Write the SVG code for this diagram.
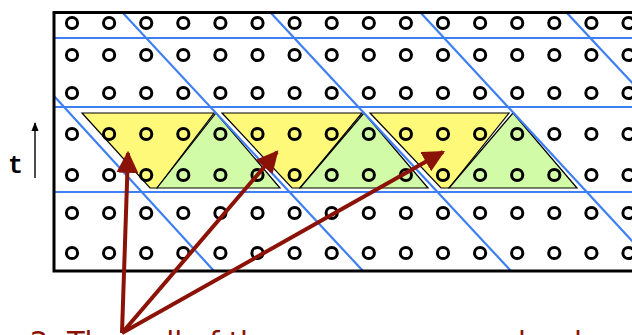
<svg xmlns="http://www.w3.org/2000/svg" width="632" height="335" viewBox="0 0 632 335">
  <style>
    .grid { fill: none; stroke: #000; stroke-width: 3; }
    .blue { stroke: #3f7ff4; stroke-width: 2.2; fill: none; }
    .yellow { fill: #fff97a; stroke: #000; stroke-width: 1.2; }
    .green { fill: #d2fba8; stroke: #000; stroke-width: 1.2; }
    .frame { fill: none; stroke: #000; stroke-width: 3; }
    .pointer { stroke: #8b1207; stroke-width: 4; fill: none; }
    .label { font-family: "Liberation Mono", "DejaVu Sans Mono", monospace; font-weight: bold; font-size: 25px; fill: #000; }
    .caption { font-family: "DejaVu Sans", "Liberation Sans", sans-serif; font-size: 29px; fill: #8b1207; }
  </style>
  <defs>
    <marker id="redhead" viewBox="0 0 10 10" refX="9" refY="5" markerWidth="5.5" markerHeight="5.5" markerUnits="strokeWidth" orient="auto">
      <path d="M0,0 L10,5 L0,10 z" fill="#8b1207"/>
    </marker>
    <marker id="blackhead" viewBox="0 0 10 10" refX="9" refY="5" markerWidth="9" markerHeight="9" markerUnits="userSpaceOnUse" orient="auto">
      <path d="M0,1 L10,5 L0,9 z" fill="#000"/>
    </marker>
  </defs>

  <!-- tiles: yellow trapezoids and green triangles -->
  <g id="tile-0">
    <polygon class="yellow" points="82,113 214,113 157,188 150,188"/>
    <polygon class="green" points="157,188 216,113 280,188"/>
  </g>
  <g id="tile-1">
    <polygon class="yellow" points="222,113 362,113 300,188 292,188"/>
    <polygon class="green" points="300,188 364,113 428,188"/>
  </g>
  <g id="tile-2">
    <polygon class="yellow" points="370,113 509,113 449,188 441,188"/>
    <polygon class="green" points="449,188 513,113 577,188"/>
  </g>

  <!-- partition lines -->
  <g id="partition">
    <line class="blue" x1="54" y1="38" x2="632" y2="38"/>
    <line class="blue" x1="54" y1="107" x2="632" y2="107"/>
    <line class="blue" x1="54" y1="192" x2="632" y2="192"/>
    <line class="blue" x1="54" y1="96" x2="214" y2="271"/>
    <line class="blue" x1="122" y1="12" x2="363" y2="271"/>
    <line class="blue" x1="270" y1="12" x2="511" y2="271"/>
    <line class="blue" x1="420" y1="12" x2="660" y2="271"/>
    <line class="blue" x1="566" y1="12" x2="808" y2="271"/>
  </g>

  <!-- grid points -->
  <g id="points" class="grid">
    <g id="row-0">
      <circle cx="72" cy="23" r="5.6"/><circle cx="109.1" cy="23" r="5.6"/><circle cx="146.2" cy="23" r="5.6"/><circle cx="183.3" cy="23" r="5.6"/><circle cx="220.4" cy="23" r="5.6"/><circle cx="257.5" cy="23" r="5.6"/><circle cx="294.6" cy="23" r="5.6"/><circle cx="331.7" cy="23" r="5.6"/><circle cx="368.8" cy="23" r="5.6"/><circle cx="405.9" cy="23" r="5.6"/><circle cx="443" cy="23" r="5.6"/><circle cx="480.1" cy="23" r="5.6"/><circle cx="517.2" cy="23" r="5.6"/><circle cx="554.3" cy="23" r="5.6"/><circle cx="591.4" cy="23" r="5.6"/><circle cx="628.5" cy="23" r="5.6"/>
    </g>
    <g id="row-1">
      <circle cx="72" cy="55" r="5.6"/><circle cx="109.1" cy="55" r="5.6"/><circle cx="146.2" cy="55" r="5.6"/><circle cx="183.3" cy="55" r="5.6"/><circle cx="220.4" cy="55" r="5.6"/><circle cx="257.5" cy="55" r="5.6"/><circle cx="294.6" cy="55" r="5.6"/><circle cx="331.7" cy="55" r="5.6"/><circle cx="368.8" cy="55" r="5.6"/><circle cx="405.9" cy="55" r="5.6"/><circle cx="443" cy="55" r="5.6"/><circle cx="480.1" cy="55" r="5.6"/><circle cx="517.2" cy="55" r="5.6"/><circle cx="554.3" cy="55" r="5.6"/><circle cx="591.4" cy="55" r="5.6"/><circle cx="628.5" cy="55" r="5.6"/>
    </g>
    <g id="row-2">
      <circle cx="72" cy="93" r="5.6"/><circle cx="109.1" cy="93" r="5.6"/><circle cx="146.2" cy="93" r="5.6"/><circle cx="183.3" cy="93" r="5.6"/><circle cx="220.4" cy="93" r="5.6"/><circle cx="257.5" cy="93" r="5.6"/><circle cx="294.6" cy="93" r="5.6"/><circle cx="331.7" cy="93" r="5.6"/><circle cx="368.8" cy="93" r="5.6"/><circle cx="405.9" cy="93" r="5.6"/><circle cx="443" cy="93" r="5.6"/><circle cx="480.1" cy="93" r="5.6"/><circle cx="517.2" cy="93" r="5.6"/><circle cx="554.3" cy="93" r="5.6"/><circle cx="591.4" cy="93" r="5.6"/><circle cx="628.5" cy="93" r="5.6"/>
    </g>
    <g id="row-3">
      <circle cx="72" cy="134" r="5.6"/><circle cx="109.1" cy="134" r="5.6"/><circle cx="146.2" cy="134" r="5.6"/><circle cx="183.3" cy="134" r="5.6"/><circle cx="220.4" cy="134" r="5.6"/><circle cx="257.5" cy="134" r="5.6"/><circle cx="294.6" cy="134" r="5.6"/><circle cx="331.7" cy="134" r="5.6"/><circle cx="368.8" cy="134" r="5.6"/><circle cx="405.9" cy="134" r="5.6"/><circle cx="443" cy="134" r="5.6"/><circle cx="480.1" cy="134" r="5.6"/><circle cx="517.2" cy="134" r="5.6"/><circle cx="554.3" cy="134" r="5.6"/><circle cx="591.4" cy="134" r="5.6"/><circle cx="628.5" cy="134" r="5.6"/>
    </g>
    <g id="row-4">
      <circle cx="72" cy="175" r="5.6"/><circle cx="109.1" cy="175" r="5.6"/><circle cx="146.2" cy="175" r="5.6"/><circle cx="183.3" cy="175" r="5.6"/><circle cx="220.4" cy="175" r="5.6"/><circle cx="257.5" cy="175" r="5.6"/><circle cx="294.6" cy="175" r="5.6"/><circle cx="331.7" cy="175" r="5.6"/><circle cx="368.8" cy="175" r="5.6"/><circle cx="405.9" cy="175" r="5.6"/><circle cx="443" cy="175" r="5.6"/><circle cx="480.1" cy="175" r="5.6"/><circle cx="517.2" cy="175" r="5.6"/><circle cx="554.3" cy="175" r="5.6"/><circle cx="591.4" cy="175" r="5.6"/><circle cx="628.5" cy="175" r="5.6"/>
    </g>
    <g id="row-5">
      <circle cx="72" cy="213" r="5.6"/><circle cx="109.1" cy="213" r="5.6"/><circle cx="146.2" cy="213" r="5.6"/><circle cx="183.3" cy="213" r="5.6"/><circle cx="220.4" cy="213" r="5.6"/><circle cx="257.5" cy="213" r="5.6"/><circle cx="294.6" cy="213" r="5.6"/><circle cx="331.7" cy="213" r="5.6"/><circle cx="368.8" cy="213" r="5.6"/><circle cx="405.9" cy="213" r="5.6"/><circle cx="443" cy="213" r="5.6"/><circle cx="480.1" cy="213" r="5.6"/><circle cx="517.2" cy="213" r="5.6"/><circle cx="554.3" cy="213" r="5.6"/><circle cx="591.4" cy="213" r="5.6"/><circle cx="628.5" cy="213" r="5.6"/>
    </g>
    <g id="row-6">
      <circle cx="72" cy="253" r="5.6"/><circle cx="109.1" cy="253" r="5.6"/><circle cx="146.2" cy="253" r="5.6"/><circle cx="183.3" cy="253" r="5.6"/><circle cx="220.4" cy="253" r="5.6"/><circle cx="257.5" cy="253" r="5.6"/><circle cx="294.6" cy="253" r="5.6"/><circle cx="331.7" cy="253" r="5.6"/><circle cx="368.8" cy="253" r="5.6"/><circle cx="405.9" cy="253" r="5.6"/><circle cx="443" cy="253" r="5.6"/><circle cx="480.1" cy="253" r="5.6"/><circle cx="517.2" cy="253" r="5.6"/><circle cx="554.3" cy="253" r="5.6"/><circle cx="591.4" cy="253" r="5.6"/><circle cx="628.5" cy="253" r="5.6"/>
    </g>
  </g>

  <!-- outer frame -->
  <rect id="frame" class="frame" x="54" y="12.5" width="640" height="258.5"/>

  <!-- time axis -->
  <g id="time-axis">
    <line x1="35" y1="178" x2="35" y2="123" stroke="#000" stroke-width="1.4" marker-end="url(#blackhead)"/>
    <text class="label" x="8" y="173">t</text>
  </g>

  <!-- pointers from the caption to the yellow tiles -->
  <g id="pointers">
    <line class="pointer" x1="122" y1="333" x2="128" y2="153" marker-end="url(#redhead)"/>
    <line class="pointer" x1="122" y1="333" x2="277" y2="152" marker-end="url(#redhead)"/>
    <line class="pointer" x1="122" y1="333" x2="443" y2="152" marker-end="url(#redhead)"/>
  </g>

  <text id="caption" class="caption" x="30" y="352">2. Then all of the green ones can be done in parallel</text>
</svg>
